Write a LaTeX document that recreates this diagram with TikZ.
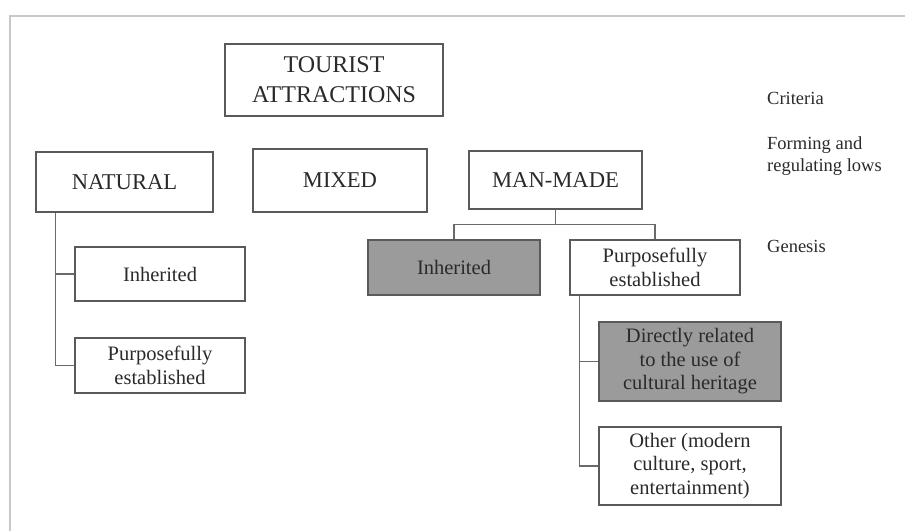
\documentclass[tikz,border=0pt]{standalone}
\usepackage{fontspec}
\setmainfont{Liberation Serif}
\definecolor{boxcol}{HTML}{5A5A5A}
\definecolor{fillgray}{HTML}{9B9B9B}
\definecolor{txtcol}{HTML}{2A2A2A}
\definecolor{framecol}{HTML}{C8C8C8}
\definecolor{conncol}{HTML}{6A6A6A}
\begin{document}
\begin{tikzpicture}[x=1pt,y=-1pt,
  box/.style={draw=boxcol, line width=1.3pt, align=center, inner sep=0pt, text=txtcol,
    font=\fontsize{20.5}{23.5}\selectfont},
  capbox/.style={box, font=\fontsize{22.6}{28}\selectfont},
  graybox/.style={box, fill=fillgray},
  conn/.style={draw=conncol, line width=1.2pt},
  crit/.style={anchor=west, align=left, inner sep=0pt, text=txtcol, font=\fontsize{18.5}{22}\selectfont}]
\useasboundingbox (0,0) rectangle (905,531);
\draw[framecol, line width=1.5pt] (10,531) -- (10,16) -- (905,16);

\node[capbox, font=\fontsize{24}{30}\selectfont, minimum width=218pt, minimum height=72pt] (ta) at (334,80) {TOURIST\\ATTRACTIONS};
\node[capbox, minimum width=177pt, minimum height=60pt] (nat) at (124.5,182) {NATURAL};
\node[capbox, minimum width=174pt, minimum height=63pt] (mix) at (340,180.5) {MIXED};
\node[capbox, minimum width=173pt, minimum height=58pt] (mm) at (555.5,180) {MAN-MADE};

\node[box, minimum width=170pt, minimum height=54pt] (inhL) at (160,274) {Inherited};
\node[box, minimum width=170pt, minimum height=55pt] (purpL) at (160,365.5) {Purposefully\\established};

\node[graybox, minimum width=172pt, minimum height=55pt] (inhR) at (454,267.5) {Inherited};
\node[box, minimum width=170pt, minimum height=55pt] (purpR) at (655,267.5) {Purposefully\\established};
\node[graybox, minimum width=182pt, minimum height=79pt] (dir) at (690,361.5) {Directly related\\to the use of\\cultural heritage};
\node[box, minimum width=182pt, minimum height=78pt] (oth) at (690,466) {Other (modern\\culture, sport,\\entertainment)};

\node[crit] (c1) at (767,98) {Criteria};
\node[crit] (c2) at (767,156) {Forming and\\regulating lows};
\node[crit] (c3) at (767,246) {Genesis};

% connectors
\coordinate (nstem) at ([xshift=20pt]nat.south west);
\draw[conn] (nstem) |- (purpL.west);
\draw[conn] (nstem |- inhL.west) -- (inhL.west);

\coordinate (mmj) at ([yshift=-15pt]mm.south);
\draw[conn] (mm.south) -- (mmj);
\draw[conn] (inhR.north) |- (mmj) -| (purpR.north);

\coordinate (pstem) at ([xshift=10pt]purpR.south west);
\draw[conn] (pstem) |- (oth.west);
\draw[conn] (pstem |- dir.west) -- (dir.west);
\end{tikzpicture}
\end{document}
